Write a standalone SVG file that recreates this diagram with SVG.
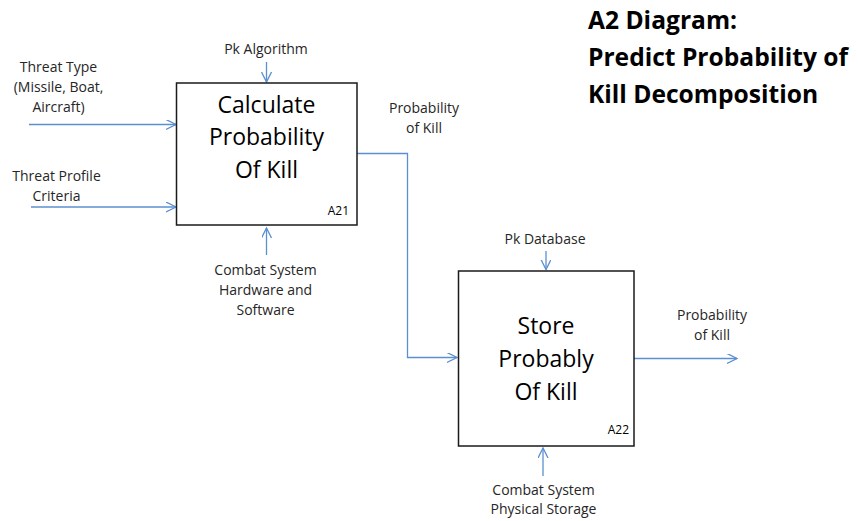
<svg xmlns="http://www.w3.org/2000/svg" width="858" height="521" viewBox="0 0 858 521">
<style>
.bg{fill:#ffffff}
.box{fill:#ffffff;stroke:#1a1a1a;stroke-width:1.5}
.conn{fill:none;stroke:#5b8fd0;stroke-width:1.3}
.lbl{font-family:"Open Sans","Noto Sans",sans-serif;font-size:14px;fill:#262626;text-anchor:middle}
.big{font-family:"Open Sans","Noto Sans",sans-serif;font-size:23px;fill:#000;text-anchor:middle}
.id{font-family:"Open Sans","Noto Sans",sans-serif;font-size:12px;fill:#000;text-anchor:end}
.title{font-family:"Open Sans","Noto Sans",sans-serif;font-size:24.6px;font-weight:bold;fill:#000}
</style>
<defs>
<marker id="arr" markerUnits="userSpaceOnUse" markerWidth="12" markerHeight="12" refX="10" refY="5" orient="auto" viewBox="0 0 12 12">
<path d="M0,0 L10,5 L0,10" fill="none" stroke="#5b8fd0" stroke-width="1.3"/>
</marker>
</defs>
<rect class="bg" x="0" y="0" width="858" height="521"/>

<g id="title">
<text class="title" x="588" y="29">A2 Diagram:</text>
<text class="title" x="588" y="66">Predict Probability of</text>
<text class="title" x="588" y="103">Kill Decomposition</text>
</g>

<g id="connectors">
<path class="conn" d="M29,124.5 H176" marker-end="url(#arr)"/>
<path class="conn" d="M31,207 H176" marker-end="url(#arr)"/>
<path class="conn" d="M266.5,62 V82" marker-end="url(#arr)"/>
<path class="conn" d="M266.5,255 V228" marker-end="url(#arr)"/>
<path class="conn" d="M357,153.5 H407.5 V357.5 H457" marker-end="url(#arr)"/>
<path class="conn" d="M546,251 V269.5" marker-end="url(#arr)"/>
<path class="conn" d="M634,358.5 H737" marker-end="url(#arr)"/>
<path class="conn" d="M543,476 V448" marker-end="url(#arr)"/>
</g>

<g id="A21">
<rect class="box" x="176.5" y="83" width="180.5" height="142"/>
<text class="big" x="266.5" y="113">Calculate</text>
<text class="big" x="266.5" y="145">Probability</text>
<text class="big" x="266.5" y="178">Of Kill</text>
<text class="id" x="349" y="215">A21</text>
</g>

<g id="A22">
<rect class="box" x="458.5" y="271" width="175.5" height="175"/>
<text class="big" x="546" y="334">Store</text>
<text class="big" x="546" y="367">Probably</text>
<text class="big" x="546" y="400">Of Kill</text>
<text class="id" x="629" y="434">A22</text>
</g>

<g id="lbl-threat-type">
<text class="lbl" x="58.5" y="72">Threat Type</text>
<text class="lbl" x="58.5" y="92">(Missile, Boat,</text>
<text class="lbl" x="58.5" y="112">Aircraft)</text>
</g>
<g id="lbl-threat-profile">
<text class="lbl" x="56.5" y="181">Threat Profile</text>
<text class="lbl" x="56.5" y="201">Criteria</text>
</g>
<g id="lbl-pk-algorithm">
<text class="lbl" x="266" y="54">Pk Algorithm</text>
</g>
<g id="lbl-combat-hw">
<text class="lbl" x="265.5" y="275">Combat System</text>
<text class="lbl" x="265.5" y="295">Hardware and</text>
<text class="lbl" x="265.5" y="315">Software</text>
</g>
<g id="lbl-pok-mid">
<text class="lbl" x="424" y="113">Probability</text>
<text class="lbl" x="424" y="133">of Kill</text>
</g>
<g id="lbl-pk-database">
<text class="lbl" x="545" y="244">Pk Database</text>
</g>
<g id="lbl-pok-out">
<text class="lbl" x="712" y="320">Probability</text>
<text class="lbl" x="712" y="340">of Kill</text>
</g>
<g id="lbl-combat-storage">
<text class="lbl" x="543.5" y="495">Combat System</text>
<text class="lbl" x="543.5" y="514">Physical Storage</text>
</g>
</svg>
